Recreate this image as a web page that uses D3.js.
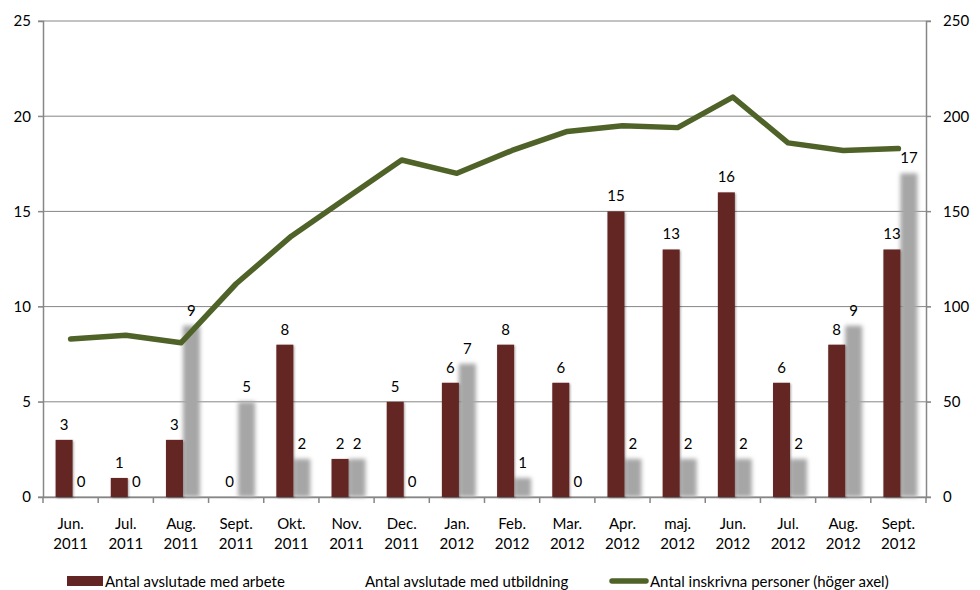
<!DOCTYPE html>
<html>
<head>
<meta charset="utf-8">
<script src="https://cdn.jsdelivr.net/npm/d3@7"></script>
<style>
  body { margin: 0; background: #fff; }
  text { font-family: Lato, "Open Sans", sans-serif; fill: #000; }
</style>
</head>
<body>
<div id="container"></div>
<script>
const months = ["Jun.", "Jul.", "Aug.", "Sept.", "Okt.", "Nov.", "Dec.", "Jan.", "Feb.", "Mar.",
                "Apr.", "maj.", "Jun.", "Jul.", "Aug.", "Sept."];
const years = ["2011", "2011", "2011", "2011", "2011", "2011", "2011", "2012", "2012", "2012",
               "2012", "2012", "2012", "2012", "2012", "2012"];
const arbete = [3, 1, 3, 0, 8, 2, 5, 6, 8, 6, 15, 13, 16, 6, 8, 13];
const utbildning = [0, 0, 9, 5, 2, 2, 0, 7, 1, 0, 2, 2, 2, 2, 9, 17];
const inskrivna = [83, 85, 81, 112, 137, 157, 177, 170, 182, 192, 195, 194, 210, 186, 182, 183];
const leftTicks = [0, 5, 10, 15, 20, 25];
const rightTicks = [0, 50, 100, 150, 200, 250];
const seriesNames = ["Antal avslutade med arbete", "Antal avslutade med utbildning",
                     "Antal inskrivna personer (höger axel)"];

const w = 980, h = 590;
const plotLeft = 43, plotRight = 926, plotTop = 21, plotBottom = 497;

const svg = d3.select('#container').append('svg')
    .attr('width', w)
    .attr('height', h);

const defs = svg.append('defs');
defs.append('filter').attr('id', 'blur')
    .attr('x', '-40%').attr('y', '-10%').attr('width', '180%').attr('height', '120%')
    .append('feGaussianBlur').attr('stdDeviation', 2);
const sh = defs.append('filter').attr('id', 'shadow')
    .attr('x', '-30%').attr('y', '-10%').attr('width', '160%').attr('height', '120%');
sh.append('feDropShadow').attr('dx', 1).attr('dy', 1).attr('stdDeviation', 1)
    .attr('flood-color', '#000').attr('flood-opacity', 0.35);

const idx = d3.range(months.length);
const xScale = d3.scaleBand().domain(idx).range([plotLeft, plotRight]);
const yLeft = d3.scaleLinear().domain([0, 25]).range([plotBottom, plotTop]);
const yRight = d3.scaleLinear().domain([0, 250]).range([plotBottom, plotTop]);

// gridlines
svg.append('g').selectAll('line')
    .data(leftTicks)
    .enter()
    .append('line')
    .attr('x1', plotLeft - 5).attr('x2', plotRight + 5)
    .attr('y1', d => yLeft(d)).attr('y2', d => yLeft(d))
    .attr('stroke', '#868686').attr('stroke-width', 1);

// left axis
const yAxisL = d3.axisLeft(yLeft).tickValues(leftTicks).tickSize(5).tickPadding(7);
const gL = svg.append('g').attr('transform', `translate(${plotLeft},0)`).call(yAxisL);
// right axis
const yAxisR = d3.axisRight(yRight).tickValues(rightTicks).tickSize(5).tickPadding(12);
const gR = svg.append('g').attr('transform', `translate(${plotRight},0)`).call(yAxisR);
[gL, gR].forEach(g => {
    g.select('.domain').attr('stroke', '#868686').attr('stroke-width', 1.5);
    g.selectAll('.tick line').attr('stroke', '#868686');
    g.selectAll('text').style('font-size', '15px').style('font-family', 'Lato, sans-serif');
});

// x axis
const xAxis = d3.axisBottom(xScale).tickSize(0).tickFormat('');
const gX = svg.append('g').attr('transform', `translate(0,${plotBottom})`).call(xAxis);
gX.select('.domain').attr('stroke', '#868686').attr('stroke-width', 1.5);
svg.append('g').selectAll('line')
    .data(d3.range(months.length + 1))
    .enter()
    .append('line')
    .attr('x1', i => plotLeft + i * xScale.step()).attr('x2', i => plotLeft + i * xScale.step())
    .attr('y1', plotBottom).attr('y2', plotBottom + 6)
    .attr('stroke', '#868686').attr('stroke-width', 1.5);

const cx = i => xScale(i) + xScale.bandwidth() / 2;

const cat = svg.append('g').selectAll('text')
    .data(idx)
    .enter()
    .append('text')
    .attr('text-anchor', 'middle')
    .style('font-size', '15px');
cat.append('tspan').attr('x', i => cx(i)).attr('y', 529).text(i => months[i]);
cat.append('tspan').attr('x', i => cx(i)).attr('y', 549).text(i => years[i]);

const barW = 17;

// gray bars (utbildning)
svg.append('g').attr('filter', 'url(#blur)').selectAll('rect')
    .data(idx)
    .enter()
    .append('rect')
    .attr('x', i => cx(i) + 2)
    .attr('y', i => yLeft(utbildning[i]))
    .attr('width', barW)
    .attr('height', i => plotBottom - yLeft(utbildning[i]))
    .attr('fill', '#a6a6a6');

// red bars (arbete)
svg.append('g').attr('filter', 'url(#shadow)').selectAll('rect')
    .data(idx)
    .enter()
    .append('rect')
    .attr('x', i => cx(i) + 2 - barW)
    .attr('y', i => yLeft(arbete[i]))
    .attr('width', barW)
    .attr('height', i => plotBottom - yLeft(arbete[i]))
    .attr('fill', '#632523');

// value labels
svg.append('g').selectAll('text')
    .data(idx)
    .enter()
    .append('text')
    .attr('x', i => cx(i) + 2 - barW / 2)
    .attr('y', i => yLeft(arbete[i]) - 10)
    .attr('text-anchor', 'middle')
    .style('font-size', '15px')
    .text(i => arbete[i]);
svg.append('g').selectAll('text')
    .data(idx)
    .enter()
    .append('text')
    .attr('x', i => cx(i) + 2 + barW / 2)
    .attr('y', i => yLeft(utbildning[i]) - 10)
    .attr('text-anchor', 'middle')
    .style('font-size', '15px')
    .text(i => utbildning[i]);

// line (right axis)
const line = d3.line()
    .x(i => cx(i))
    .y(i => yRight(inskrivna[i]));
svg.append('path')
    .datum(idx)
    .attr('d', line)
    .attr('fill', 'none')
    .attr('stroke', '#4f6228')
    .attr('stroke-width', 5.5)
    .attr('stroke-linejoin', 'round')
    .attr('stroke-linecap', 'round');

// legend
const legend = svg.append('g');
legend.append('rect').attr('x', 67).attr('y', 576).attr('width', 36).attr('height', 10).attr('fill', '#632523');
legend.append('text').attr('x', 105).attr('y', 587).style('font-size', '15px').text(seriesNames[0]);
legend.append('text').attr('x', 365).attr('y', 587).style('font-size', '15px').text(seriesNames[1]);
legend.append('line').attr('x1', 612).attr('x2', 646).attr('y1', 581).attr('y2', 581)
    .attr('stroke', '#4f6228').attr('stroke-width', 5.5).attr('stroke-linecap', 'round');
legend.append('text').attr('x', 650).attr('y', 587).style('font-size', '15px').text(seriesNames[2]);
</script>
</body>
</html>
